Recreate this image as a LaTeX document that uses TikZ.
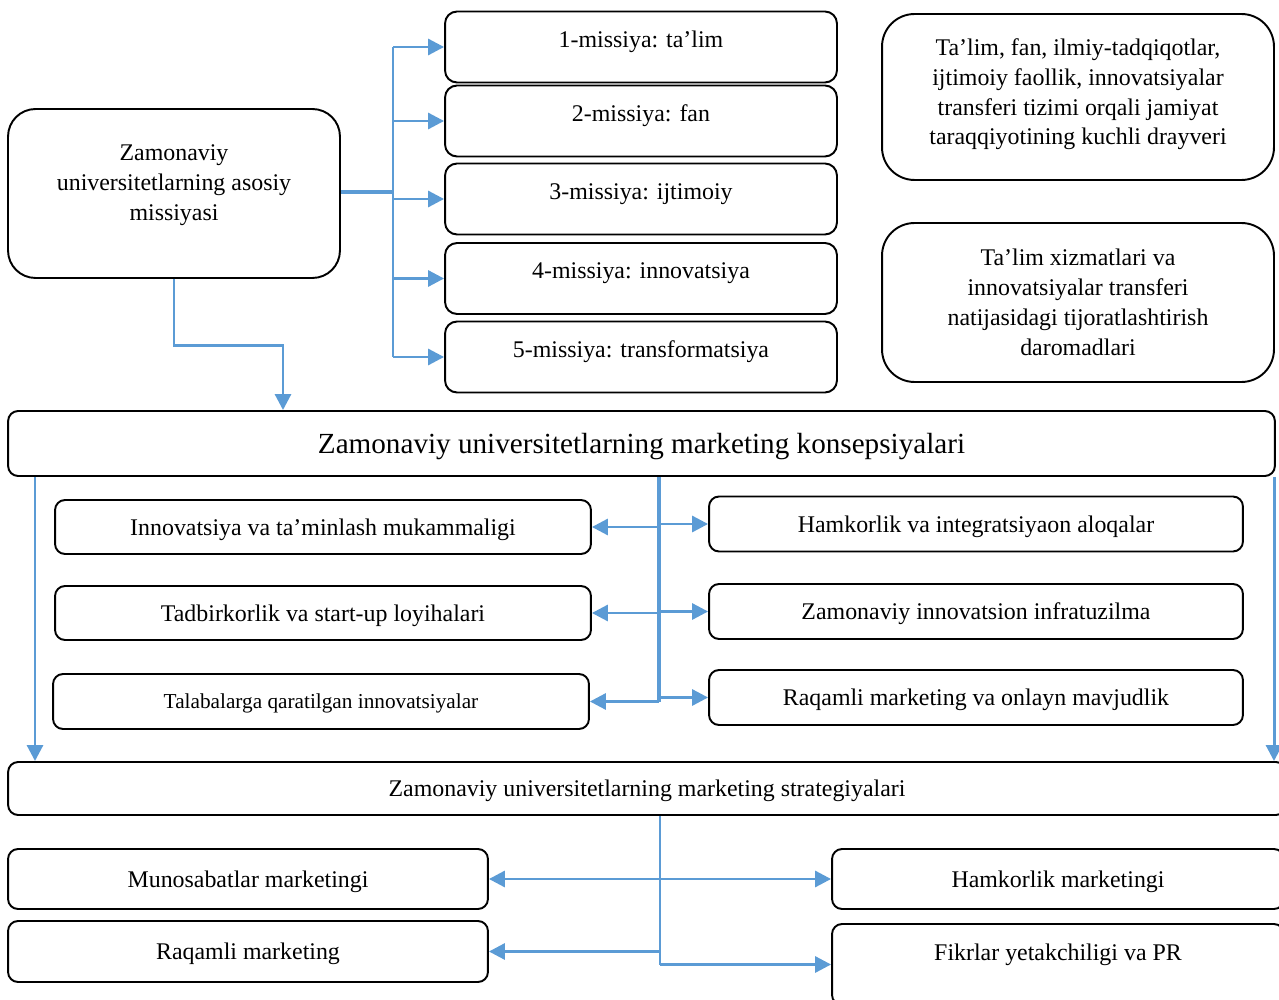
\documentclass[tikz,border=0pt]{standalone}
\usepackage{fontspec}
\setmainfont{Liberation Serif}
\usetikzlibrary{arrows.meta,calc,positioning}
\definecolor{linkblue}{RGB}{91,155,213}
\tikzset{%
	mission/.style = {draw, rectangle, rounded corners=0.24cm, line width=1.1pt, minimum width=7.84cm, minimum height=1.42cm, text centered, text depth=9pt},
	bigbox/.style  = {draw, rectangle, rounded corners=0.65cm, line width=1.1pt, text centered, align=center},
	item/.style    = {draw, rectangle, rounded corners=0.2cm, line width=1.1pt, minimum height=1.08cm, text centered, text depth=0pt},
	link/.style    = {draw=linkblue, line width=1.7pt},
	arrow/.style   = {link, -{Triangle[length=0.32cm,width=0.32cm]}},
}
\newcommand{\bodyfont}{\fontsize{13.6}{17}\selectfont}

\begin{document}
\begin{tikzpicture}[x=0.02cm,y=-0.02cm,font=\bodyfont]
	\useasboundingbox (0,0) rectangle (1279,1000);
	
	% missions
	\node[bigbox, minimum width=6.64cm, minimum height=3.38cm, rounded corners=0.55cm, text depth=12pt] (asos) at (174,193.5) {Zamonaviy\\universitetlarning asosiy\\missiyasi};
	\foreach \i/\y/\txt in {1/47/{1-missiya: ta’lim},2/121/{2-missiya: fan},3/199/{3-missiya: ijtimoiy},4/278.5/{4-missiya: innovatsiya},5/357/{5-missiya: transformatsiya}} \node[mission] (m\i) at (641,\y) {\txt};
	
	\coordinate (jm) at (393,192);
	\draw[link, line width=2.3pt] (asos.east |- jm) -- (jm);
	\draw[link] (jm |- m1.west) -- (jm |- m5.west);
	\foreach \i in {1,...,5} \draw[arrow] (jm |- m\i.west) -- (m\i.west);
	
	\node[bigbox, minimum width=7.84cm, minimum height=3.32cm, text depth=6pt] (drv) at (1078,97) {Ta’lim, fan, ilmiy-tadqiqotlar,\\ijtimoiy faollik, innovatsiyalar\\transferi tizimi orqali jamiyat\\taraqqiyotining kuchli drayveri};
	\node[bigbox, minimum width=7.84cm, minimum height=3.18cm] (dar) at (1078,302.5) {Ta’lim xizmatlari va\\innovatsiyalar transferi\\natijasidagi tijoratlashtirish\\daromadlari};
	
	% concepts
	\node[item, minimum width=25.34cm, minimum height=1.3cm, font=\fontsize{16.6}{20}\selectfont] (kons) at (641.5,443.5) {Zamonaviy universitetlarning marketing konsepsiyalari};
	\draw[arrow] (asos.south) -- ++(0,67) -| (283,0 |- kons.north);
	
	\foreach \n/\y/\txt in {ia/527/{Innovatsiya va ta’minlash mukammaligi},tad/613/{Tadbirkorlik va start-up loyihalari}} \node[item, minimum width=10.72cm] (\n) at (323,\y) {\txt};
	\node[item, minimum width=10.72cm, minimum height=1.1cm, font=\fontsize{12.1}{15}\selectfont] (tal) at (321,701.5) {Talabalarga qaratilgan innovatsiyalar};
	\foreach \n/\y/\txt in {ham/524/{Hamkorlik va integratsiyaon aloqalar},zii/611.5/{Zamonaviy innovatsion infratuzilma},raq/697.5/{Raqamli marketing va onlayn mavjudlik}} \node[item, minimum width=10.68cm, minimum height=1.1cm] (\n) at (976,\y) {\txt};
	
	\coordinate (jk) at (659,477);
	\draw[link, line width=2.6pt] (jk |- kons.south) -- (jk |- tal.east);
	\foreach \n in {ia,tad,tal} \draw[arrow] (jk |- \n.east) -- (\n.east);
	\foreach \n in {ham,zii,raq} \draw[arrow] (jk |- \n.west) -- (\n.west);
	
	% strategies
	\node[item, minimum width=25.56cm, minimum height=1.06cm] (strat) at (647,788.5) {Zamonaviy universitetlarning marketing strategiyalari};
	\draw[arrow] (35,0 |- kons.south) -- (35,0 |- strat.north);
	\draw[arrow] (1274,0 |- kons.south) -- (1274,0 |- strat.north);
	
	\node[item, minimum width=9.6cm, minimum height=1.2cm] (mun) at (248,879) {Munosabatlar marketingi};
	\node[item, minimum width=9.6cm, minimum height=1.22cm] (raqm) at (248,951.5) {Raqamli marketing};
	\node[item, minimum width=9.04cm, minimum height=1.2cm] (hamm) at (1058,879) {Hamkorlik marketingi};
	\node[item, minimum width=9.04cm, minimum height=1.62cm, text depth=14pt] (fikr) at (1058,964.5) {Fikrlar yetakchiligi va PR};
	
	\coordinate (js) at (660,815);
	\draw[link] (js |- strat.south) -- (js |- fikr.west);
	\draw[arrow] (js |- mun.east) -- (mun.east);
	\draw[arrow] (js |- hamm.west) -- (hamm.west);
	\draw[arrow] (js |- raqm.east) -- (raqm.east);
	\draw[arrow] (js |- fikr.west) -- (fikr.west);
\end{tikzpicture}
\end{document}
